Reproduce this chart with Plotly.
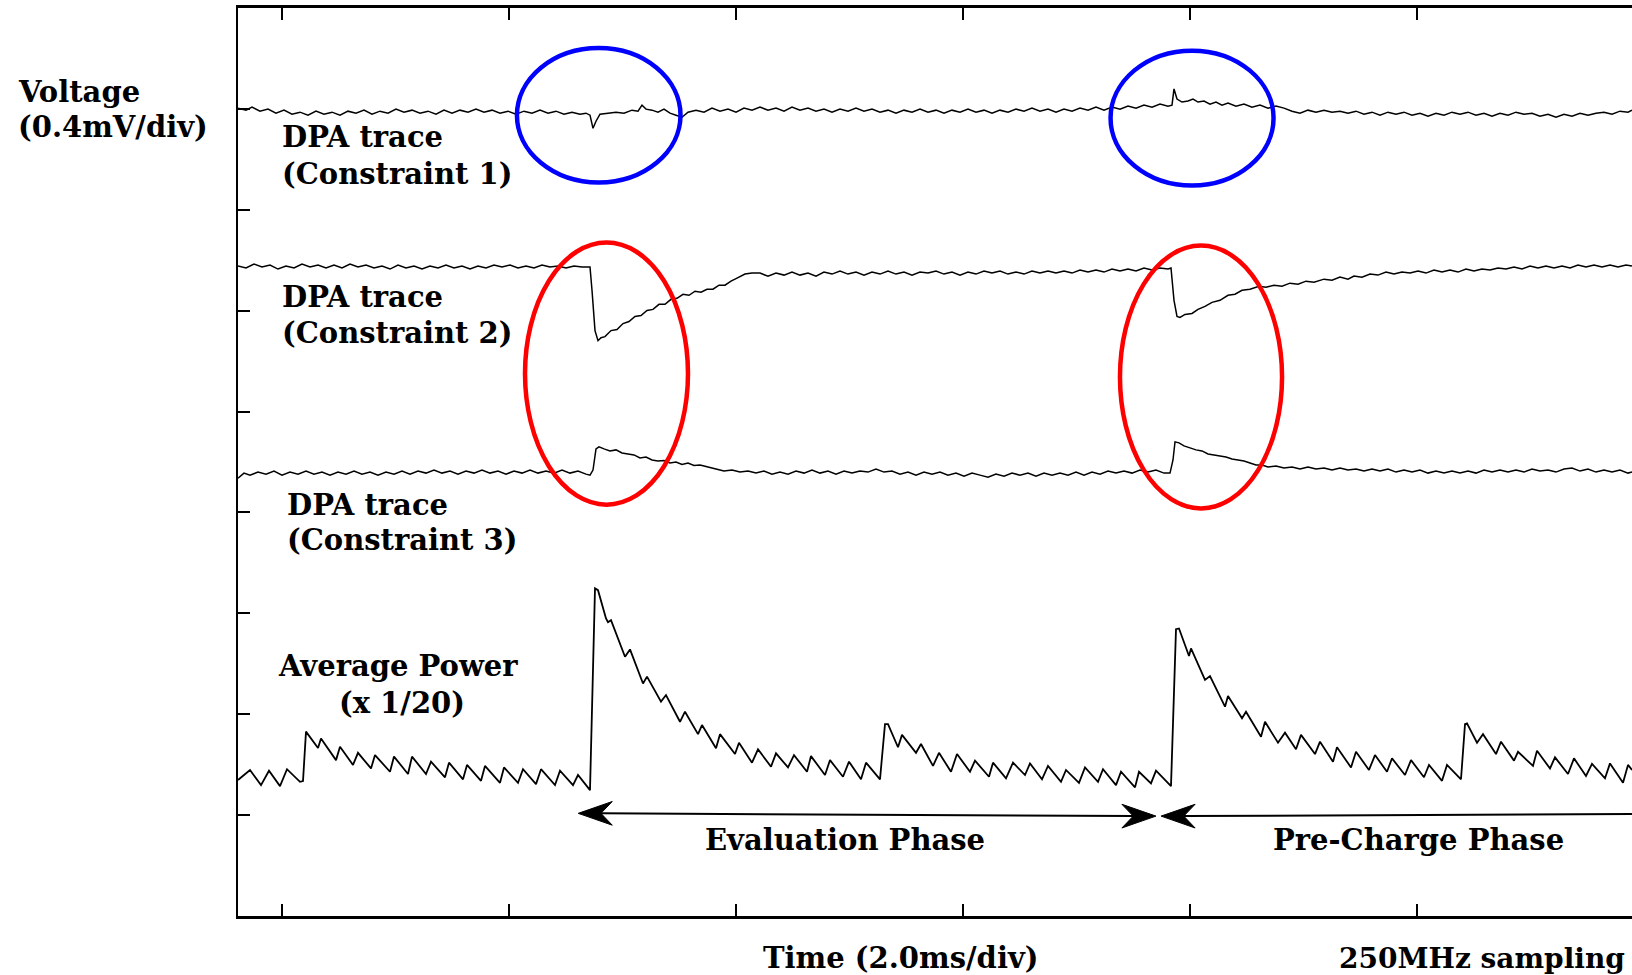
import numpy as np
import plotly.graph_objects as go

# ---------------- time base ----------------
SAMPLE_MS = 2.0 / 227          # time between stored samples (ms)
TRIGGER_SAMPLE = 44            # sample index at t = 0

# ---------------- DPA trace, constraint 1 (sample index, microvolts) ----------------
dpa1_idx = [0, 8, 14, 22, 30, 38, 46, 54, 62, 70,
            78, 86, 94, 102, 110, 118, 126, 134, 142, 150,
            158, 166, 174, 182, 190, 198, 206, 214, 222, 230,
            238, 246, 254, 262, 270, 278, 286, 294, 302, 310,
            318, 326, 334, 342, 348, 352, 355, 358, 362, 370,
            378, 386, 394, 400, 404, 408, 414, 420, 426, 432,
            438, 444, 450, 458, 466, 474, 482, 490, 498, 506,
            514, 522, 530, 538, 546, 554, 562, 570, 578, 586,
            594, 602, 610, 618, 626, 634, 642, 650, 658, 666,
            674, 682, 690, 698, 706, 714, 722, 730, 738, 746,
            754, 762, 770, 778, 786, 794, 802, 810, 818, 826,
            834, 842, 850, 858, 866, 874, 882, 890, 898, 906,
            914, 922, 930, 934, 936, 939, 944, 950, 955, 960,
            966, 972, 978, 984, 990, 998, 1006, 1014, 1022, 1030,
            1038, 1046, 1054, 1062, 1070, 1078, 1086, 1094, 1102, 1110,
            1118, 1126, 1134, 1142, 1150, 1158, 1166, 1174, 1182, 1190,
            1198, 1206, 1214, 1222, 1230, 1238, 1246, 1254, 1262, 1270,
            1278, 1286, 1294, 1302, 1310, 1318, 1326, 1334, 1342, 1350,
            1358, 1366, 1374, 1382, 1390, 1394]
dpa1_uv = [3203, 3195, 3207, 3191, 3199, 3183, 3195, 3179, 3187, 3175,
           3191, 3179, 3187, 3175, 3191, 3183, 3195, 3179, 3191, 3183,
           3199, 3187, 3195, 3183, 3191, 3179, 3195, 3183, 3195, 3187,
           3199, 3187, 3195, 3183, 3191, 3179, 3191, 3183, 3195, 3183,
           3191, 3179, 3187, 3179, 3183, 3175, 3123, 3151, 3179, 3183,
           3187, 3183, 3195, 3191, 3215, 3199, 3195, 3187, 3199, 3183,
           3175, 3167, 3187, 3195, 3187, 3203, 3191, 3199, 3187, 3203,
           3195, 3207, 3195, 3203, 3191, 3207, 3195, 3203, 3191, 3199,
           3187, 3199, 3191, 3203, 3191, 3199, 3187, 3195, 3183, 3195,
           3187, 3199, 3187, 3195, 3183, 3195, 3187, 3199, 3187, 3195,
           3183, 3195, 3187, 3199, 3191, 3203, 3191, 3199, 3187, 3199,
           3191, 3203, 3195, 3207, 3195, 3207, 3199, 3211, 3203, 3215,
           3207, 3219, 3211, 3215, 3279, 3239, 3227, 3231, 3239, 3227,
           3231, 3219, 3227, 3215, 3223, 3211, 3219, 3207, 3215, 3203,
           3211, 3203, 3191, 3183, 3195, 3187, 3195, 3187, 3191, 3183,
           3191, 3179, 3187, 3175, 3187, 3179, 3187, 3175, 3183, 3171,
           3183, 3175, 3187, 3179, 3187, 3175, 3183, 3171, 3183, 3175,
           3187, 3179, 3183, 3171, 3179, 3167, 3179, 3171, 3183, 3175,
           3183, 3187, 3179, 3191, 3187, 3195]

# ---------------- DPA trace, constraint 2 ----------------
dpa2_idx = [0, 8, 16, 24, 32, 40, 48, 56, 64, 72,
            80, 88, 96, 104, 112, 120, 128, 136, 144, 152,
            160, 168, 176, 184, 192, 200, 208, 216, 224, 232,
            240, 248, 256, 264, 272, 280, 288, 296, 304, 312,
            320, 328, 336, 344, 352, 354, 357, 360, 363, 367,
            373, 379, 385, 391, 397, 403, 409, 415, 421, 427,
            433, 439, 445, 451, 457, 463, 469, 475, 481, 487,
            493, 499, 507, 514, 522, 530, 538, 546, 554, 562,
            570, 578, 586, 594, 602, 610, 618, 626, 634, 642,
            650, 658, 666, 674, 682, 690, 698, 706, 714, 722,
            730, 738, 746, 754, 762, 770, 778, 786, 794, 802,
            810, 818, 826, 834, 842, 850, 858, 866, 874, 882,
            890, 898, 906, 914, 922, 930, 933, 936, 939, 942,
            947, 954, 960, 967, 974, 982, 990, 997, 1004, 1012,
            1021, 1028, 1036, 1044, 1052, 1060, 1068, 1076, 1086, 1094,
            1102, 1110, 1116, 1124, 1132, 1140, 1148, 1156, 1164, 1172,
            1180, 1188, 1196, 1204, 1212, 1220, 1228, 1236, 1244, 1252,
            1260, 1268, 1276, 1284, 1292, 1300, 1308, 1316, 1324, 1332,
            1340, 1348, 1356, 1364, 1372, 1380, 1388, 1394]
dpa2_uv = [2577, 2569, 2585, 2573, 2581, 2565, 2577, 2569, 2585, 2573,
           2581, 2569, 2581, 2569, 2585, 2573, 2581, 2569, 2577, 2565,
           2581, 2569, 2577, 2565, 2577, 2569, 2581, 2569, 2577, 2565,
           2577, 2569, 2581, 2573, 2581, 2569, 2577, 2569, 2581, 2573,
           2577, 2569, 2577, 2573, 2573, 2481, 2321, 2281, 2293, 2297,
           2321, 2325, 2349, 2357, 2377, 2381, 2401, 2405, 2425, 2425,
           2445, 2449, 2465, 2461, 2477, 2473, 2485, 2485, 2501, 2501,
           2517, 2529, 2545, 2549, 2549, 2537, 2549, 2541, 2553, 2541,
           2549, 2537, 2553, 2545, 2557, 2545, 2553, 2541, 2553, 2545,
           2557, 2545, 2553, 2541, 2553, 2549, 2557, 2545, 2553, 2541,
           2553, 2545, 2557, 2549, 2557, 2545, 2553, 2545, 2557, 2549,
           2557, 2549, 2557, 2549, 2561, 2553, 2561, 2553, 2565, 2557,
           2565, 2557, 2569, 2561, 2569, 2565, 2569, 2441, 2377, 2373,
           2385, 2389, 2405, 2417, 2433, 2441, 2461, 2465, 2481, 2485,
           2497, 2493, 2501, 2497, 2509, 2505, 2517, 2513, 2525, 2521,
           2533, 2525, 2537, 2533, 2545, 2541, 2553, 2545, 2553, 2549,
           2557, 2549, 2561, 2553, 2561, 2553, 2565, 2557, 2565, 2561,
           2569, 2565, 2573, 2565, 2577, 2569, 2577, 2569, 2577, 2569,
           2581, 2573, 2581, 2573, 2581, 2573, 2581, 2577]

# ---------------- DPA trace, constraint 3 ----------------
dpa3_idx = [0, 6, 12, 20, 28, 36, 44, 52, 60, 68,
            76, 84, 92, 100, 108, 116, 124, 132, 140, 148,
            156, 164, 172, 180, 188, 196, 204, 212, 220, 228,
            236, 244, 252, 260, 268, 276, 284, 292, 300, 308,
            316, 324, 332, 340, 348, 352, 355, 358, 361, 366,
            372, 378, 384, 390, 396, 402, 408, 414, 420, 426,
            432, 438, 444, 450, 456, 462, 470, 478, 486, 494,
            502, 510, 518, 526, 534, 542, 550, 558, 566, 574,
            582, 590, 598, 606, 614, 622, 630, 638, 646, 654,
            662, 670, 678, 686, 694, 702, 710, 718, 726, 734,
            742, 750, 758, 766, 774, 782, 790, 798, 806, 814,
            822, 830, 838, 846, 854, 862, 870, 878, 886, 894,
            902, 910, 918, 926, 932, 935, 937, 941, 946, 952,
            958, 964, 970, 976, 982, 988, 994, 1000, 1006, 1012,
            1018, 1024, 1030, 1038, 1046, 1054, 1062, 1070, 1078, 1086,
            1094, 1102, 1110, 1118, 1126, 1134, 1142, 1150, 1158, 1166,
            1174, 1182, 1190, 1198, 1206, 1214, 1222, 1230, 1238, 1246,
            1254, 1262, 1270, 1278, 1286, 1294, 1302, 1310, 1318, 1326,
            1334, 1342, 1350, 1358, 1366, 1374, 1382, 1390, 1394]
dpa3_uv = [1736, 1756, 1748, 1760, 1752, 1764, 1748, 1760, 1752, 1764,
           1752, 1760, 1748, 1760, 1752, 1764, 1752, 1760, 1748, 1760,
           1752, 1764, 1752, 1764, 1756, 1768, 1756, 1764, 1752, 1764,
           1756, 1768, 1756, 1764, 1752, 1764, 1756, 1768, 1756, 1764,
           1756, 1768, 1756, 1764, 1752, 1748, 1768, 1852, 1860, 1852,
           1844, 1848, 1836, 1832, 1828, 1816, 1820, 1808, 1804, 1806,
           1796, 1800, 1790, 1796, 1786, 1788, 1780, 1772, 1764, 1768,
           1760, 1764, 1756, 1764, 1752, 1760, 1752, 1764, 1756, 1768,
           1756, 1764, 1752, 1764, 1756, 1764, 1760, 1772, 1760, 1764,
           1752, 1760, 1748, 1760, 1752, 1760, 1748, 1756, 1744, 1756,
           1748, 1740, 1752, 1744, 1756, 1748, 1756, 1744, 1756, 1748,
           1756, 1748, 1760, 1748, 1760, 1752, 1764, 1756, 1764, 1756,
           1768, 1760, 1768, 1756, 1756, 1808, 1880, 1876, 1864, 1856,
           1848, 1844, 1832, 1828, 1824, 1820, 1812, 1808, 1804, 1796,
           1788, 1788, 1780, 1784, 1776, 1780, 1772, 1780, 1772, 1776,
           1768, 1776, 1768, 1772, 1764, 1772, 1764, 1772, 1760, 1768,
           1760, 1768, 1756, 1764, 1756, 1764, 1756, 1764, 1756, 1768,
           1760, 1768, 1760, 1768, 1760, 1772, 1764, 1768, 1760, 1772,
           1776, 1764, 1772, 1760, 1768, 1760, 1768, 1756, 1760]

# ---------------- Average power (x 1/20) ----------------
power_idx = [0, 12, 23, 31, 42, 49, 62, 65, 68, 80,
             83, 98, 102, 115, 120, 133, 137, 152, 156, 170,
             174, 188, 193, 207, 211, 225, 229, 243, 247, 262,
             266, 280, 285, 298, 303, 317, 322, 335, 340, 352,
             357, 360, 368, 370, 373, 387, 392, 405, 409, 423,
             428, 442, 447, 460, 464, 478, 482, 497, 501, 514,
             520, 533, 538, 550, 556, 569, 573, 587, 592, 605,
             611, 623, 628, 642, 647, 650, 660, 664, 678, 683,
             695, 701, 713, 719, 732, 737, 751, 755, 768, 775,
             787, 792, 804, 810, 823, 828, 841, 847, 860, 865,
             878, 883, 897, 901, 913, 918, 933, 938, 941, 951,
             953, 967, 972, 987, 990, 1004, 1008, 1023, 1027, 1040,
             1047, 1058, 1063, 1077, 1082, 1095, 1099, 1113, 1118, 1131,
             1137, 1149, 1154, 1167, 1173, 1186, 1191, 1204, 1209, 1223,
             1227, 1229, 1239, 1245, 1258, 1263, 1276, 1280, 1295, 1299,
             1312, 1317, 1330, 1336, 1348, 1354, 1367, 1372, 1385, 1390,
             1394]
power_uv = [539, 579, 519, 576, 515, 582, 532, 535, 731, 666,
            704, 618, 671, 599, 647, 585, 638, 572, 632, 563,
            632, 563, 612, 550, 608, 542, 599, 536, 595, 528,
            589, 528, 582, 523, 582, 519, 576, 519, 559, 499,
            1299, 1292, 1180, 1165, 1173, 1028, 1057, 922, 949, 850,
            876, 770, 810, 721, 757, 665, 721, 642, 687, 608,
            661, 592, 645, 589, 638, 572, 634, 559, 618, 552,
            612, 542, 608, 542, 761, 761, 669, 718, 647, 682,
            595, 647, 572, 642, 572, 616, 552, 608, 546, 608,
            559, 605, 542, 595, 532, 579, 528, 589, 532, 582,
            519, 572, 510, 572, 526, 576, 515, 1137, 1140, 1031,
            1061, 936, 951, 830, 872, 784, 810, 711, 770, 687,
            727, 661, 718, 642, 691, 612, 669, 589, 651, 579,
            638, 572, 625, 559, 618, 550, 599, 536, 599, 542,
            761, 764, 687, 721, 642, 691, 616, 651, 595, 655,
            585, 629, 563, 625, 555, 603, 546, 605, 528, 599,
            579]

# ---------------- highlighted regions (ms, mV) ----------------
blue_regions = [(2.070, 3.511, 2.908, 3.441), (7.300, 8.736, 2.896, 3.431)]
red_regions = [(2.141, 3.577, 1.631, 2.670), (7.383, 8.811, 1.616, 2.658)]

# ---------------- phase arrows (ms, mV) ----------------
eval_phase = (2.610, 0.407, 7.700, 0.396)
precharge_phase = (7.745, 0.396, 11.894, 0.404)

VOLT_PER_DIV = 0.4
N_DIV_Y = 9
TIME_PER_DIV = 2.0

FONT = "DejaVu Serif"
FS = 29


def to_ms(idx):
    return (np.asarray(idx, dtype=float) - TRIGGER_SAMPLE) * SAMPLE_MS


def to_mv(uv):
    return np.asarray(uv, dtype=float) / 1000.0


fig = go.Figure()
series = [(dpa1_idx, dpa1_uv, 1.5), (dpa2_idx, dpa2_uv, 1.5),
          (dpa3_idx, dpa3_uv, 1.5), (power_idx, power_uv, 1.8)]
all_t = []
for idx, uv, w in series:
    assert len(idx) == len(uv), (len(idx), len(uv))
    t = to_ms(idx)
    all_t.append(t)
    fig.add_trace(go.Scatter(x=t, y=to_mv(uv), mode="lines",
                             line=dict(color="black", width=w, simplify=False),
                             hoverinfo="skip", showlegend=False))

t_all = np.concatenate(all_t)
x_range = [float(t_all.min()), float(t_all.max())]

for (x0, x1, y0, y1) in blue_regions:
    fig.add_shape(type="circle", xref="x", yref="y", x0=x0, x1=x1, y0=y0, y1=y1,
                  line=dict(color="#0000ff", width=4.5))
for (x0, x1, y0, y1) in red_regions:
    fig.add_shape(type="circle", xref="x", yref="y", x0=x0, x1=x1, y0=y0, y1=y1,
                  line=dict(color="#ff0000", width=4.5))

# stealth-style arrow heads (length / half-height / notch in axis units)
HEAD_LEN = 0.30
HEAD_HALF = 0.047
HEAD_NOTCH = 0.10


def head(tip_x, tip_y, direction):
    # direction: -1 = pointing left, +1 = pointing right
    bx = tip_x - direction * HEAD_LEN
    nx = bx + direction * HEAD_NOTCH
    path = (f"M {tip_x},{tip_y} L {bx},{tip_y + HEAD_HALF} "
            f"L {nx},{tip_y} L {bx},{tip_y - HEAD_HALF} Z")
    fig.add_shape(type="path", xref="x", yref="y", path=path,
                  fillcolor="black", line=dict(color="black", width=1))
    return nx


ex0, ey0, ex1, ey1 = eval_phase
a = head(ex0, ey0, -1)
b = head(ex1, ey1, +1)
fig.add_shape(type="line", xref="x", yref="y", x0=a, y0=ey0, x1=b, y1=ey1,
              line=dict(color="black", width=2))
px0, py0, px1, py1 = precharge_phase
c = head(px0, py0, -1)
fig.add_shape(type="line", xref="x", yref="y", x0=c, y0=py0, x1=px1, y1=py1,
              line=dict(color="black", width=2))


def label(text, x, y, xanchor="left", size=FS):
    fig.add_annotation(text=text, x=x, y=y, xref="paper", yref="paper",
                       xanchor=xanchor, yanchor="middle", showarrow=False,
                       font=dict(family=FONT, size=size, color="black", weight="bold"))


label("Voltage", -0.1593, 0.9075)
label("(0.4mV/div)", -0.1593, 0.8689)
label("DPA trace", 0.0301, 0.8579)
label("(Constraint 1)", 0.0301, 0.8172)
label("DPA trace", 0.0301, 0.6817)
label("(Constraint 2)", 0.0301, 0.6421)
label("DPA trace", 0.0337, 0.4526)
label("(Constraint 3)", 0.0337, 0.4141)
label("Average Power", 0.1148, 0.2753, "center")
label("(x 1/20)", 0.1176, 0.2346, "center")
label("Evaluation Phase", 0.4354, 0.0837, "center")
label("Pre-Charge Phase", 0.8465, 0.0837, "center")
label("Time (2.0ms/div)", 0.4749, -0.0463, "center")
label("250MHz sampling", 0.9965, -0.0463, "right", 28)

fig.update_layout(
    width=1632, height=975,
    margin=dict(l=238, r=0, t=8, b=59),
    paper_bgcolor="white", plot_bgcolor="white",
    showlegend=False,
    xaxis=dict(range=x_range, showgrid=False, zeroline=False, showticklabels=False,
               ticks="inside", ticklen=12, tickwidth=1.5, tickcolor="black",
               tick0=0, dtick=TIME_PER_DIV,
               showline=True, linecolor="black", linewidth=3, mirror="ticks"),
    yaxis=dict(range=[0, VOLT_PER_DIV * N_DIV_Y], showgrid=False, zeroline=False,
               showticklabels=False, ticks="inside", ticklen=12, tickwidth=1.5,
               tickcolor="black", tick0=0, dtick=VOLT_PER_DIV,
               showline=True, linecolor="black", linewidth=2, mirror=False),
)

fig.write_html("out.html")
